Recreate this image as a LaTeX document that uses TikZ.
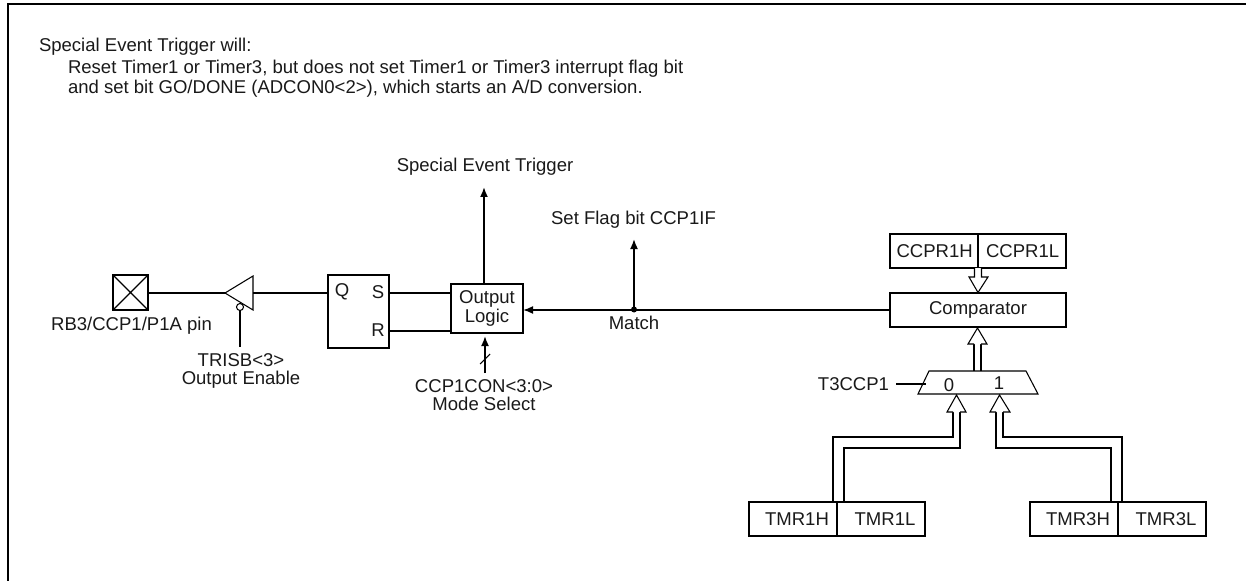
\documentclass[tikz,border=0pt]{standalone}
\usepackage{fontspec}
\setmainfont{Liberation Sans}
\usetikzlibrary{arrows.meta}
\def\u{0.75pt}
\tikzset{
  x=0.75pt,y=-0.75pt,
  every node/.style={font=\fontsize{13.9pt}{13.8pt}\selectfont,inner sep=0pt,outer sep=0pt,text=black!90},
  heavy/.style={line width=1.5pt,draw=black},
  thin line/.style={line width=0.8pt,draw=black},
  wire/.style={line width=1.3pt,draw=black},
  boxn/.style={heavy,minimum height=34*\u},
  label/.style={align=center},
  sig/.style={wire,-{Latex[length=7.5pt,width=6pt]}},
  hollow/.style={thin line,fill=white}
}
\begin{document}
\begin{tikzpicture}
\useasboundingbox (0,0) rectangle (1246,581);
% frame
\coordinate (fa) at (8,581);
\coordinate (fb) at (8,4);
\coordinate (fc) at (1246,4);
\draw[heavy] (fa) -- (fb) -- (fc);
% header text
\node[anchor=west] (t1) at (39,47) {Special Event Trigger will:};
\node[anchor=west] (t2) at (68,69) {Reset Timer1 or Timer3, but does not set Timer1 or Timer3 interrupt flag bit};
\node[anchor=west] (t3) at (68,89) {and set bit GO/DONE (ADCON0<2>), which starts an A/D conversion.};
% pin
\node[heavy,minimum width=35*\u,minimum height=35*\u] (pin) at (130.5,292.5) {};
\draw[line width=0.8pt] (pin.north west) -- (pin.south east) (pin.north east) -- (pin.south west);
\node (pinl) at (131.5,326) {RB3/CCP1/P1A pin};
% buffer
\coordinate (bufa) at (225,293);
\coordinate (bufb) at (253,276);
\coordinate (bufc) at (253,310);
\coordinate (bufr) at (253,293);
\draw[thin line,line join=miter] (bufa) -- (bufb) -- (bufc) -- cycle;
\node[circle,thin line,fill=white,minimum size=7*\u] (bub) at (240,307) {};
\coordinate (trisend) at (240,347);
\draw[wire] (bub) -- (trisend);
\node[label] (tris) at (241,371) {TRISB<3>\\Output Enable};
% SR latch
\node[heavy,minimum width=61*\u,minimum height=73*\u] (sr) at (358.5,311.5) {};
\node (q) at (342,292) {Q};
\node (s) at (378,292) {S};
\node (r) at (378,330) {R};
\draw[wire] (pin.east |- bufa) -- (bufa);
\draw[wire] (bufr) -- (bufr -| sr.west);
% output logic
\node[heavy,minimum width=72*\u,minimum height=49*\u,align=center] (ol) at (487,308.5) {Output\\Logic};
\draw[wire] (sr.east |- 0,293) -- (ol.west |- 0,293);
\draw[wire] (sr.east |- 0,331) -- (ol.west |- 0,331);
\node (trig) at (485,167) {Special Event Trigger};
\coordinate (trigend) at (484,187);
\draw[sig] (ol.north -| trigend) -- (trigend);
\coordinate (modeb) at (485,373);
\coordinate (modet) at (485,336);
\draw[sig] (modeb) -- (modet);
\coordinate (sa) at (480,364);
\coordinate (sb) at (490,354);
\draw[thin line] (sa) -- (sb);
\node[label] (mode) at (484,395) {CCP1CON<3:0>\\Mode Select};
% comparator
\node[boxn,minimum width=176*\u] (cmp) at (978,310) {Comparator};
\draw[sig] (cmp.west) -- (ol.east |- cmp.west);
\node[circle,fill=black,minimum size=6*\u] (dot) at (634,309.5) {};
\coordinate (flagend) at (634,239);
\draw[sig] (dot) -- (flagend);
\node (flag) at (633.5,220) {Set Flag bit CCP1IF};
\node (match) at (634,323) {Match};
% CCPR
\node[boxn,minimum width=88*\u] (ch) at (934,251) {\hspace{1pt}CCPR1H};
\node[boxn,minimum width=88*\u] (cl) at (1022,251) {\hspace{1pt}CCPR1L};
% hollow arrow CCPR -> comparator
\coordinate (c1) at (974.5,268);
\coordinate (c2) at (981.5,268);
\draw[hollow] (c1) -- (c1 |- 0,277) -- (969,277) -- (978,292.5) -- (988,277) -- (c2 |- 0,277) -- (c2);
% mux
\coordinate (m1) at (918,394);
\coordinate (m2) at (1038,394);
\coordinate (m3) at (1026,371);
\coordinate (m4) at (929,371);
\draw[thin line,line join=miter] (m1) -- (m2) -- (m3) -- (m4) -- cycle;
\node (zero) at (949,385) {0};
\node (one) at (999,383) {1};
\node[anchor=east] (sel) at (889,384) {T3CCP1};
\coordinate (selin) at (926,384);
\draw[wire] (sel.east) ++(7,0) -- (selin);
% mux -> comparator
\coordinate (d1) at (974,371);
\coordinate (d2) at (981,371);
\draw[wire] (d1) -- (d1 |- 0,344) (d2) -- (d2 |- 0,344);
\draw[hollow] (d1 |- 0,344) -- (968,344) -- (977.5,328) -- (987,344) -- (d2 |- 0,344);
% timers
\node[boxn,minimum width=88*\u] (t1h) at (793,519) {\hspace{6pt}TMR1H};
\node[boxn,minimum width=88*\u] (t1l) at (881,519) {\hspace{6pt}TMR1L};
\node[boxn,minimum width=88*\u] (t3h) at (1074,519) {\hspace{6pt}TMR3H};
\node[boxn,minimum width=88*\u] (t3l) at (1162,519) {\hspace{6pt}TMR3L};
% bus TMR1 -> mux 0
\draw[wire,line join=miter] (t1h.north -| 833,0) -- (833,437) -- (953,437) -- (953,412);
\draw[wire,line join=miter] (t1h.north -| 844,0) -- (844,448) -- (960,448) -- (960,412);
\draw[hollow] (953,412) -- (947,412) -- (956.5,395) -- (966,412) -- (960,412);
% bus TMR3 -> mux 1
\draw[wire,line join=miter] (t3h.north -| 1122,0) -- (1122,437) -- (1003,437) -- (1003,412);
\draw[wire,line join=miter] (t3h.north -| 1111,0) -- (1111,448) -- (996,448) -- (996,412);
\draw[hollow] (996,412) -- (990,412) -- (999.5,395) -- (1010,412) -- (1003,412);
\end{tikzpicture}
\end{document}
